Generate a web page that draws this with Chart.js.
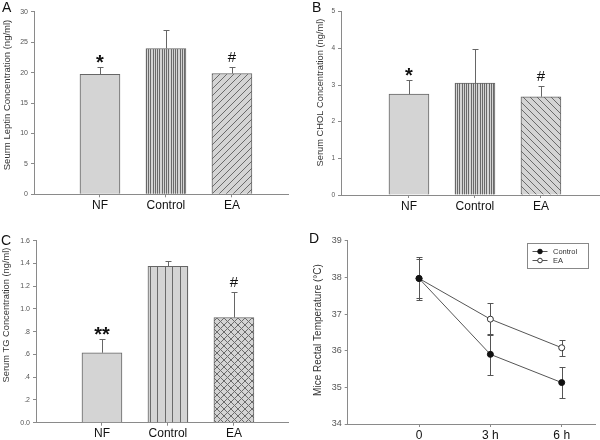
<!DOCTYPE html>
<html><head><meta charset="utf-8">
<script src="https://cdn.jsdelivr.net/npm/chart.js@4.4.1/dist/chart.umd.min.js"></script>
<style>
html,body{margin:0;padding:0;background:#fff;}
#wrap{position:relative;width:600px;height:440px;background:#fff;}
canvas{position:absolute;}
</style></head><body>
<div id="wrap">
<canvas id="cA" width="300" height="220" style="left:0;top:0"></canvas>
<canvas id="cB" width="300" height="220" style="left:300px;top:0"></canvas>
<canvas id="cC" width="300" height="220" style="left:0;top:220px"></canvas>
<canvas id="cD" width="300" height="220" style="left:300px;top:220px"></canvas>
</div>
<script>
// ---- data ----
const categories = ['NF', 'Control', 'EA'];
const categoryPos = [1, 2, 3];

const leptinMean = [19.7, 23.95, 19.85];
const leptinErr = [1.15, 3.05, 1.1];
const leptinMarks = ['*', '', '#'];
const leptinTicks = [0, 5, 10, 15, 20, 25, 30];

const cholMean = [2.75, 3.05, 2.68];
const cholErr = [0.38, 0.92, 0.28];
const cholMarks = ['*', '', '#'];
const cholTicks = [0, 1, 2, 3, 4, 5];

const tgMean = [0.615, 1.375, 0.925];
const tgErr = [0.12, 0.045, 0.22];
const tgMarks = ['**', '', '#'];
const tgTicks = [0, 0.2, 0.4, 0.6, 0.8, 1.0, 1.2, 1.4, 1.6];
const tgTickLabels = ['0.0', '.2', '.4', '.6', '.8', '1.0', '1.2', '1.4', '1.6'];

const timeHours = [0, 3, 6];
const timeLabels = ['0', '3 h', '6 h'];
const tempTicks = [34, 35, 36, 37, 38, 39];
const tempControl = [37.97, 35.90, 35.13];
const tempControlErr = [0.58, 0.55, 0.43];
const tempEA = [37.97, 36.86, 36.08];
const tempEAErr = [0.53, 0.43, 0.22];

// ---- styling helpers ----
const FONT = "'Liberation Sans', Arial, Helvetica, sans-serif";
Chart.defaults.font.family = FONT;
const AXIS = '#8a8a8a';
const BAR_BG = '#d4d4d4';
const HATCH = '#6a6a6a';

function pattern(ctx, kind) {
  if (kind === 'solid') return BAR_BG;
  const c = document.createElement('canvas');
  const g = c.getContext('2d');
  let w = 7, h = 7;
  if (kind === 'vfine') { w = 9; h = 4; }
  if (kind === 'vwide') { w = 15; h = 4; }
  c.width = w; c.height = h;
  g.fillStyle = BAR_BG; g.fillRect(0, 0, w, h);
  g.fillStyle = HATCH; g.strokeStyle = HATCH; g.lineWidth = 1;
  if (kind === 'vfine') [0, 2, 4, 6].forEach(x => g.fillRect(x, 0, 1, h));
  if (kind === 'vwide') { g.fillRect(0, 0, 1, h); g.fillRect(7, 0, 1, h); }
  if (kind === 'fwd' || kind === 'cross') {
    for (const o of [-w, 0, w]) { g.beginPath(); g.moveTo(o, h); g.lineTo(o + w, 0); g.stroke(); }
  }
  if (kind === 'back' || kind === 'cross') {
    for (const o of [-w, 0, w]) { g.beginPath(); g.moveTo(o, 0); g.lineTo(o + w, h); g.stroke(); }
  }
  return ctx.createPattern(c, 'repeat');
}

function drawTitles(chart, cfg) {
  const c = chart.ctx;
  c.save();
  c.fillStyle = '#333';
  c.font = cfg.titleSize + 'px ' + FONT;
  c.textAlign = 'center'; c.textBaseline = 'middle';
  c.translate(cfg.titleX, cfg.titleY);
  c.rotate(-Math.PI / 2);
  c.fillText(cfg.title, 0, 0);
  c.restore();
  c.save();
  c.fillStyle = '#111';
  c.font = '14px ' + FONT;
  c.textAlign = 'left'; c.textBaseline = 'alphabetic';
  c.fillText(cfg.letter, cfg.letterX, cfg.letterY);
  c.restore();
}

function axisY(cfg, W, H) {
  return {
    min: cfg.yTicks[0], max: cfg.yTicks[cfg.yTicks.length - 1],
    afterBuildTicks: s => { s.ticks = cfg.yTicks.map(v => ({ value: v })); },
    afterFit: s => { s.width = cfg.area.left; },
    ticks: {
      callback: (v, i) => cfg.yTickLabels ? cfg.yTickLabels[i] : String(v),
      font: { size: cfg.tickSize }, color: '#555', padding: 3, autoSkip: false
    },
    grid: { display: true, drawOnChartArea: false, drawTicks: true, tickLength: 3, color: AXIS },
    border: { display: true, color: AXIS }
  };
}

function axisX(cfg, W, H) {
  return {
    type: 'linear', min: cfg.xMin, max: cfg.xMax, offset: false,
    afterBuildTicks: s => { s.ticks = cfg.xPos.map(v => ({ value: v })); },
    afterFit: s => { s.height = H - cfg.area.bottom; },
    ticks: {
      callback: v => cfg.xLabels[cfg.xPos.indexOf(v)],
      font: { size: 12 }, color: '#111', padding: 1, autoSkip: false, maxRotation: 0
    },
    grid: { display: true, drawOnChartArea: false, drawTicks: true, tickLength: 3, color: AXIS, offset: false },
    border: { display: true, color: AXIS }
  };
}

function baseOptions(cfg, W, H) {
  return {
    responsive: false, maintainAspectRatio: false, animation: false, devicePixelRatio: 1, events: [],
    layout: { padding: { left: 0, top: cfg.area.top, right: W - cfg.area.right, bottom: 0 } },
    plugins: { legend: { display: false }, tooltip: { enabled: false } },
    scales: { x: axisX(cfg, W, H), y: axisY(cfg, W, H) }
  };
}

function makeBarChart(cfg) {
  const canvas = document.getElementById(cfg.id);
  const ctx = canvas.getContext('2d');
  const W = canvas.width, H = canvas.height;
  cfg.xPos = categoryPos; cfg.xLabels = categories;
  const plug = {
    id: 'extras',
    afterDatasetsDraw(chart) {
      const c = chart.ctx, ys = chart.scales.y, meta = chart.getDatasetMeta(0);
      c.save();
      c.strokeStyle = '#666'; c.lineWidth = 1;
      meta.data.forEach((el, i) => {
        const x = Math.round(el.x) + 0.5;
        const top = Math.round(ys.getPixelForValue(cfg.means[i] + cfg.errs[i])) + 0.5;
        c.beginPath();
        c.moveTo(x, el.y); c.lineTo(x, top);
        c.moveTo(x - 3, top); c.lineTo(x + 3, top);
        c.stroke();
        const m = cfg.marks[i];
        if (m) {
          const star = m[0] === '*';
          c.fillStyle = '#111';
          c.font = (star ? 'bold 20px ' : '15px ') + FONT;
          c.textAlign = 'center'; c.textBaseline = 'alphabetic';
          c.fillText(m, el.x, star ? top + 1.5 : top - 6);
        }
      });
      c.restore();
    },
    afterDraw(chart) { drawTitles(chart, cfg); }
  };
  return new Chart(ctx, {
    type: 'bar',
    data: {
      datasets: [{
        data: cfg.means.map((v, i) => ({ x: categoryPos[i], y: v })),
        backgroundColor: cfg.fills.map(k => pattern(ctx, k)),
        borderColor: '#666', borderWidth: 1, barThickness: 40
      }]
    },
    options: baseOptions(cfg, W, H),
    plugins: [plug]
  });
}

makeBarChart({
  id: 'cA', means: leptinMean, errs: leptinErr, marks: leptinMarks,
  yTicks: leptinTicks, tickSize: 7,
  area: { left: 34, top: 11.7, right: 288, bottom: 194.3 }, xMin: 0, xMax: 3.85,
  fills: ['solid', 'vfine', 'fwd'],
  title: 'Seurm Leptin Concentration (ng/ml)', titleSize: 9.5, titleX: 7, titleY: 95,
  letter: 'A', letterX: 2, letterY: 12
});

makeBarChart({
  id: 'cB', means: cholMean, errs: cholErr, marks: cholMarks,
  yTicks: cholTicks, tickSize: 6.5,
  area: { left: 41, top: 11.7, right: 299, bottom: 195 }, xMin: -0.03, xMax: 3.88,
  fills: ['solid', 'vfine', 'back'],
  title: 'Serum CHOL Concentration (ng/ml)', titleSize: 9.3, titleX: 20, titleY: 92.5,
  letter: 'B', letterX: 12, letterY: 12
});

makeBarChart({
  id: 'cC', means: tgMean, errs: tgErr, marks: tgMarks,
  yTicks: tgTicks, yTickLabels: tgTickLabels, tickSize: 7,
  area: { left: 36, top: 20.7, right: 288, bottom: 202.7 }, xMin: 0, xMax: 3.82,
  fills: ['solid', 'vwide', 'cross'],
  title: 'Serum TG Concentration (ng/ml)', titleSize: 9.3, titleX: 6, titleY: 95,
  letter: 'C', letterX: 1, letterY: 25
});

// ---- panel D ----
(function () {
  const canvas = document.getElementById('cD');
  const ctx = canvas.getContext('2d');
  const W = canvas.width, H = canvas.height;
  const cfg = {
    yTicks: tempTicks, tickSize: 9,
    area: { left: 47.7, top: 20.7, right: 296, bottom: 204 }, xMin: -3, xMax: 7.4,
    xPos: timeHours, xLabels: timeLabels,
    title: 'Mice Rectal Temperature (°C)', titleSize: 10, titleX: 18, titleY: 110,
    letter: 'D', letterX: 9, letterY: 23
  };
  const errs = [tempControlErr, tempEAErr];
  const means = [tempControl, tempEA];
  const plug = {
    id: 'extrasD',
    beforeDatasetsDraw(chart) {
      const c = chart.ctx, ys = chart.scales.y;
      c.save();
      c.strokeStyle = '#555'; c.lineWidth = 1;
      [0, 1].forEach(d => {
        chart.getDatasetMeta(d).data.forEach((el, i) => {
          const x = Math.round(el.x) + 0.5;
          const hi = Math.round(ys.getPixelForValue(means[d][i] + errs[d][i])) + 0.5;
          const lo = Math.round(ys.getPixelForValue(means[d][i] - errs[d][i])) + 0.5;
          c.beginPath();
          c.moveTo(x, hi); c.lineTo(x, lo);
          c.moveTo(x - 3, hi); c.lineTo(x + 3, hi);
          c.moveTo(x - 3, lo); c.lineTo(x + 3, lo);
          c.stroke();
        });
      });
      c.restore();
    },
    afterDraw(chart) {
      drawTitles(chart, cfg);
      const c = chart.ctx;
      c.save();
      c.fillStyle = '#fff'; c.strokeStyle = '#888'; c.lineWidth = 1;
      c.fillRect(227.5, 23.5, 61, 25);
      c.strokeRect(227.5, 23.5, 61, 25);
      chart.data.datasets.forEach((ds, d) => {
        const y = d === 0 ? 31.5 : 40.5;
        c.strokeStyle = ds.borderColor; c.lineWidth = 1;
        c.beginPath(); c.moveTo(232.5, y); c.lineTo(247.5, y); c.stroke();
        c.beginPath(); c.arc(240, y, 2.3, 0, Math.PI * 2);
        c.fillStyle = ds.pointBackgroundColor; c.fill();
        c.strokeStyle = ds.pointBorderColor; c.stroke();
        c.fillStyle = '#333'; c.font = '7.5px ' + FONT;
        c.textAlign = 'left'; c.textBaseline = 'middle';
        c.fillText(ds.label, 253, y);
      });
      c.restore();
    }
  };
  new Chart(ctx, {
    type: 'line',
    data: {
      datasets: [
        {
          label: 'Control', data: timeHours.map((h, i) => ({ x: h, y: tempControl[i] })),
          borderColor: '#555', borderWidth: 1, pointRadius: 3, pointBorderWidth: 1,
          pointBackgroundColor: '#111', pointBorderColor: '#111', tension: 0
        },
        {
          label: 'EA', data: timeHours.map((h, i) => ({ x: h, y: tempEA[i] })),
          borderColor: '#555', borderWidth: 1, pointRadius: 3, pointBorderWidth: 1,
          pointBackgroundColor: '#fff', pointBorderColor: '#333', tension: 0
        }
      ]
    },
    options: baseOptions(cfg, W, H),
    plugins: [plug]
  });
})();
</script>
</body></html>
